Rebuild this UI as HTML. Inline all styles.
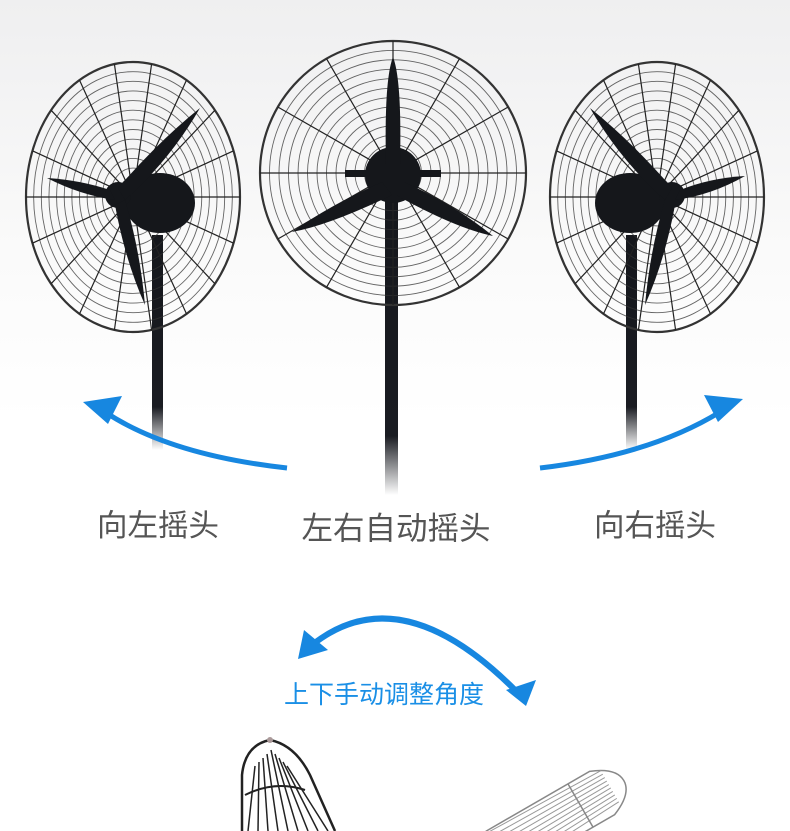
<!DOCTYPE html>
<html><head><meta charset="utf-8"><style>
html,body{margin:0;padding:0;width:790px;height:831px;overflow:hidden;background:#fff}
svg{display:block;overflow:hidden}
</style></head><body>
<svg id="s" width="790" height="831" viewBox="0 0 790 831" xmlns="http://www.w3.org/2000/svg">
<defs>
<linearGradient id="bg" x1="0" y1="0" x2="0" y2="1"><stop offset="0" stop-color="#efeff0"/><stop offset="0.6" stop-color="#fafafa"/><stop offset="1" stop-color="#fff"/></linearGradient>
<linearGradient id="pole" x1="0" y1="0" x2="0" y2="1"><stop offset="0" stop-color="#15171c"/><stop offset="0.8" stop-color="#1a1c22"/><stop offset="1" stop-color="#1a1c22" stop-opacity="0"/></linearGradient>
<clipPath id="cl"><rect width="790" height="831"/></clipPath>
</defs>
<g clip-path="url(#cl)">
<rect width="790" height="420" fill="url(#bg)"/>
<rect x="385" y="200" width="13" height="295" fill="url(#pole)"/>
<rect x="152" y="235" width="11" height="215" fill="url(#pole)"/>
<rect x="626" y="235" width="11" height="215" fill="url(#pole)"/>
<g id="fans"></g>
<path d="M287,468 Q170,455 105,412" stroke="#1787e0" stroke-width="5" fill="none"/>
<polygon points="83,402 122,396 108,424" fill="#1787e0"/>
<path d="M540,468 Q650,455 720,412" stroke="#1787e0" stroke-width="5" fill="none"/>
<polygon points="743,399 704,395 718,422" fill="#1787e0"/>
<path d="M312,645 Q400,575 515,690" stroke="#1787e0" stroke-width="6" fill="none"/>
<polygon points="298,659 304,630 328,650" fill="#1787e0"/>
<polygon points="526,706 506,690 536,680" fill="#1787e0"/>
<g font-family="'Liberation Sans','Noto Sans CJK SC',sans-serif" text-anchor="middle">
<text x="158" y="536" font-size="30.5" fill="#555">向左摇头</text>
<text x="396" y="539" font-size="31.5" fill="#555">左右自动摇头</text>
<text x="655" y="536" font-size="30.5" fill="#555">向右摇头</text>
<text x="384" y="703" font-size="25" fill="#1a8fe6">上下手动调整角度</text>
</g>
<g id="cages"></g>
</g>
</svg>
<script>
var NS="http://www.w3.org/2000/svg";
function el(p,t,a){var e=document.createElementNS(NS,t);for(var k in a)e.setAttribute(k,a[k]);p.appendChild(e);return e;}
var F=document.getElementById('fans');
function fan(cx,cy,rx,ry,dir){
 var g=el(F,'g',{});
 for(var i=1;i<=14;i++){var f=i/14;el(g,'ellipse',{cx:cx,cy:cy,rx:rx*f,ry:ry*f,fill:'none',stroke:'#333','stroke-width':i==14?2.2:0.9,opacity:i==14?1:0.75});}
 for(var a=0;a<360;a+=(dir?20:30)){var r=a*Math.PI/180;el(g,'line',{x1:cx+Math.cos(r)*rx*0.12,y1:cy+Math.sin(r)*ry*0.12,x2:cx+Math.cos(r)*rx,y2:cy+Math.sin(r)*ry,stroke:'#222','stroke-width':1.2});}
 return g;
}
var g=fan(393,173,133,132,0);
el(g,'circle',{cx:393,cy:175,r:28,fill:'#15171b'});
el(g,'rect',{x:345,y:170,width:96,height:7,fill:'#15171b'});
el(g,'path',{d:'M386,165 Q384,80 393,57 Q402,80 400,165Z',fill:'#15171b'});
el(g,'path',{d:'M382,182 Q330,205 292,232 Q330,225 392,195Z',fill:'#15171b'});
el(g,'path',{d:'M404,182 Q455,205 493,236 Q455,228 396,195Z',fill:'#15171b'});
g=fan(133,197,107,135,1);
el(g,'ellipse',{cx:160,cy:203,rx:35,ry:30,fill:'#15171b'});
el(g,'circle',{cx:118,cy:195,r:13,fill:'#15171b'});
el(g,'path',{d:'M110,190 Q80,180 47,178 Q80,195 115,200Z',fill:'#15171b'});
el(g,'path',{d:'M118,188 Q160,140 200,108 Q170,160 125,200Z',fill:'#15171b'});
el(g,'path',{d:'M115,205 Q125,260 145,305 Q140,250 125,200Z',fill:'#15171b'});
g=fan(657,197,107,135,1);
el(g,'ellipse',{cx:630,cy:203,rx:35,ry:30,fill:'#15171b'});
el(g,'circle',{cx:672,cy:195,r:13,fill:'#15171b'});
el(g,'path',{d:'M680,190 Q710,178 745,176 Q712,195 675,200Z',fill:'#15171b'});
el(g,'path',{d:'M672,188 Q630,140 590,108 Q620,160 665,200Z',fill:'#15171b'});
el(g,'path',{d:'M675,205 Q665,260 645,305 Q650,250 665,200Z',fill:'#15171b'});
var C=document.getElementById('cages');
var c1=el(C,'g',{});
el(c1,'path',{d:'M242,831 L242,775 Q245,745 270,740 Q295,745 310,775 L335,831',fill:'none',stroke:'#222','stroke-width':2.5});
for(var i=0;i<9;i++){el(c1,'line',{x1:248+i*10,y1:831,x2:255+i*4,y2:750+Math.abs(i-4)*4,stroke:'#222','stroke-width':1.5});}
el(c1,'path',{d:'M245,795 Q275,780 305,790',fill:'none',stroke:'#222','stroke-width':2});
el(c1,'circle',{cx:270,cy:740,r:3,fill:'#a99'});
var c2=el(C,'g',{transform:'rotate(-30 560 800)'});
el(c2,'path',{d:'M480,790 L600,790 Q625,800 625,815 Q625,830 600,840 L480,840',fill:'none',stroke:'#888','stroke-width':1.5});
for(var i=0;i<10;i++){el(c2,'line',{x1:480,y1:792+i*5,x2:610,y2:795+i*4,stroke:'#999','stroke-width':1});}
el(c2,'line',{x1:575,y1:790,x2:575,y2:840,stroke:'#888','stroke-width':1.5});
</script>
</body></html>
